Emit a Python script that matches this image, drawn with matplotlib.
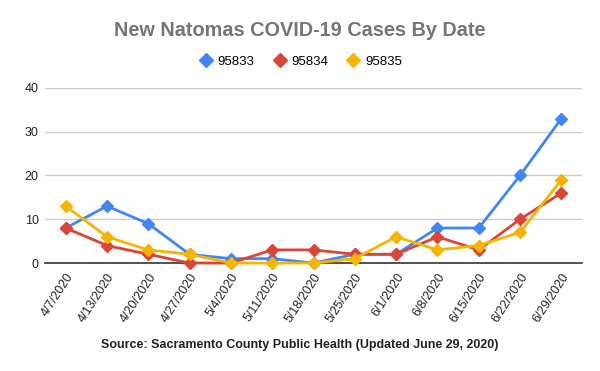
import matplotlib
matplotlib.use("Agg")
import matplotlib.pyplot as plt
from matplotlib.lines import Line2D

dates = ["4/7/2020", "4/13/2020", "4/20/2020", "4/27/2020", "5/4/2020", "5/11/2020",
         "5/18/2020", "5/25/2020", "6/1/2020", "6/8/2020", "6/15/2020", "6/22/2020", "6/29/2020"]
z95833 = [8, 13, 9, 2, 1, 1, 0, 2, 2, 8, 8, 20, 33]
z95834 = [8, 4, 2, 0, 0, 3, 3, 2, 2, 6, 3, 10, 16]
z95835 = [13, 6, 3, 2, 0, 0, 0, 1, 6, 3, 4, 7, 19]
series = [("95833", z95833, "#4285f4"), ("95834", z95834, "#db4437"), ("95835", z95835, "#f4b400")]
yticks = [0, 10, 20, 30, 40]

plt.rcParams['font.family'] = ['Liberation Sans', 'DejaVu Sans']
fig = plt.figure(figsize=(6, 3.71), dpi=100)
ax = fig.add_axes([0.075, 0.291, 0.895, 0.472])
x = list(range(len(dates)))
for name, vals, col in series:
    ax.plot(x, vals, color=col, lw=2, marker='D', ms=6.5, label=name, zorder=3, clip_on=False)

ax.set_xlim(-0.5, len(dates) - 0.5)
ax.set_ylim(0, 40)
ax.set_yticks(yticks)
ax.set_xticks(x)
ax.set_xticklabels(dates, rotation=57, ha='right', rotation_mode='anchor', fontsize=9, color='#222222')
ax.tick_params(axis='y', labelsize=9, colors='#222222', length=0, pad=4.5)
ax.tick_params(axis='x', length=0, pad=6)
ax.grid(axis='y', color='#cccccc', lw=1)
ax.set_axisbelow(True)
for s in ['top', 'right', 'left']:
    ax.spines[s].set_visible(False)
ax.spines['bottom'].set_color('#333333')
ax.spines['bottom'].set_linewidth(1.2)

fig.text(0.5, 0.918, "New Natomas COVID-19 Cases By Date", ha='center', va='center',
         fontsize=14.3, fontweight='bold', color='#757575')
handles = [Line2D([], [], color=c, marker='D', ls='none', ms=7) for _, _, c in series]
fig.legend(handles, [n for n, _, _ in series], loc='center', bbox_to_anchor=(0.5, 0.833),
           ncol=3, frameon=False, fontsize=9.5, handletextpad=0.3, columnspacing=1.3,
           handlelength=1.2)
fig.text(0.5, 0.07, "Source: Sacramento County Public Health (Updated June 29, 2020)",
         ha='center', va='center', fontsize=9, fontweight='bold', color='#222222')
fig.savefig("out.png", dpi=100)
